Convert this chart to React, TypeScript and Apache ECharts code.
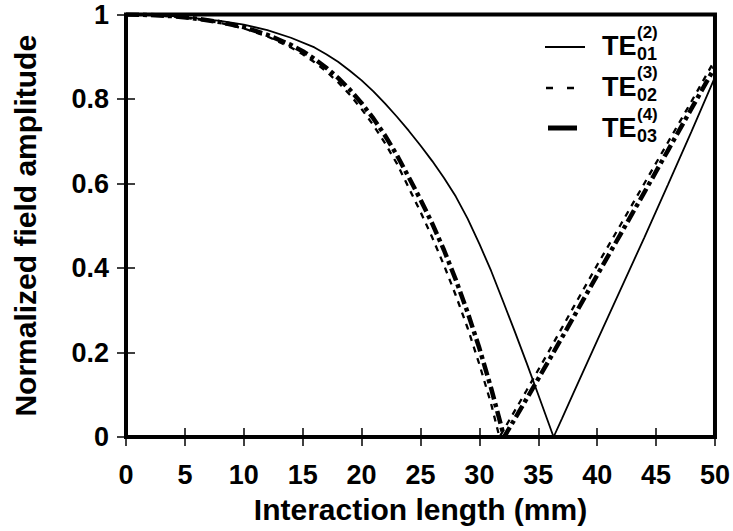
import React, { useEffect, useRef } from "react";
import * as echarts from "echarts";

// TE01(2) – solid
const te01X = [0, 2, 4, 6, 8, 10, 12, 14, 16, 17, 18, 19, 20, 21, 22, 23, 24, 25, 26, 27, 28, 29, 30, 31, 32, 33, 34, 35, 36.3, 37, 38, 40, 42, 44, 46, 48, 50];
const te01Y = [1.0, 0.999, 0.996, 0.991, 0.985, 0.976, 0.963, 0.945, 0.922, 0.906, 0.888, 0.867, 0.844, 0.818, 0.789, 0.758, 0.725, 0.69, 0.653, 0.613, 0.569, 0.517, 0.457, 0.393, 0.322, 0.25, 0.176, 0.1, 0.0, 0.043, 0.105, 0.228, 0.35, 0.472, 0.597, 0.723, 0.852];

// TE02(3) – short dashes
const te02X = [0, 2, 4, 6, 8, 10, 12, 14, 15, 16, 17, 18, 19, 20, 21, 22, 23, 24, 25, 26, 27, 28, 29, 30, 31, 31.7, 32, 34, 36, 38, 40, 42, 44, 46, 48, 50];
const te02Y = [1.0, 0.999, 0.995, 0.989, 0.98, 0.967, 0.948, 0.922, 0.906, 0.887, 0.865, 0.84, 0.81, 0.776, 0.738, 0.695, 0.647, 0.59, 0.533, 0.472, 0.406, 0.335, 0.258, 0.172, 0.078, 0.0, 0.014, 0.11, 0.208, 0.308, 0.407, 0.503, 0.6, 0.697, 0.794, 0.893];

// TE03(4) – thick dash-dot
const te03X = [0, 2, 4, 6, 8, 10, 12, 14, 15, 16, 17, 18, 19, 20, 21, 22, 23, 24, 25, 26, 27, 28, 29, 30, 31, 32.1, 34, 36, 38, 40, 42, 44, 46, 48, 50];
const te03Y = [1.0, 0.999, 0.996, 0.99, 0.982, 0.97, 0.952, 0.928, 0.913, 0.895, 0.874, 0.85, 0.822, 0.79, 0.754, 0.713, 0.667, 0.615, 0.562, 0.505, 0.442, 0.372, 0.295, 0.21, 0.115, 0.0, 0.09, 0.186, 0.284, 0.383, 0.481, 0.579, 0.678, 0.777, 0.876];

const legendSup = ["(2)", "(3)", "(4)"];
const legendSub = ["01", "02", "03"];

const FONT = "'Liberation Sans', Arial, Helvetica, sans-serif";

function pairs(xs: number[], ys: number[]) {
  return xs.map((x, i) => [x, ys[i]]);
}

export default function App() {
  const ref = useRef<HTMLDivElement>(null);
  useEffect(() => {
    if (!ref.current) return;
    const chart = echarts.init(ref.current, undefined, { renderer: "svg" });
    const rowY = [46, 86.5, 128];
    const graphics: any[] = [];
    rowY.forEach((c, i) => {
      if (i === 0) {
        graphics.push({ type: "line", shape: { x1: 545, y1: c + 1, x2: 585, y2: c + 1 }, style: { stroke: "#000", lineWidth: 2 } });
      } else if (i === 1) {
        graphics.push({ type: "line", shape: { x1: 546, y1: c + 1.5, x2: 574, y2: c + 1.5 }, style: { stroke: "#000", lineWidth: 2.5, lineDash: [7, 14] } });
      } else {
        graphics.push({ type: "line", shape: { x1: 548, y1: c, x2: 577, y2: c }, style: { stroke: "#000", lineWidth: 5 } });
      }
      graphics.push({ type: "text", x: 602, y: c, style: { text: "TE", font: `bold 27px ${FONT}`, fill: "#000", textAlign: "left", textVerticalAlign: "middle" } });
      graphics.push({ type: "text", x: 637, y: c - 14, style: { text: legendSup[i], font: `bold 17px ${FONT}`, fill: "#000", textAlign: "left", textVerticalAlign: "middle" } });
      graphics.push({ type: "text", x: 637, y: c + 8, style: { text: legendSub[i], font: `bold 18px ${FONT}`, fill: "#000", textAlign: "left", textVerticalAlign: "middle" } });
    });

    const tickStyle = { show: true, inside: true, length: 9, lineStyle: { color: "#000", width: 1.5 } };
    const labelStyle = { color: "#000", fontSize: 27, fontWeight: "bold" as const, fontFamily: FONT };

    chart.setOption({
      animation: false,
      backgroundColor: "#fff",
      grid: { left: 126, right: 18, top: 14.5, bottom: 94, show: true, borderColor: "#000", borderWidth: 4, backgroundColor: "transparent" },
      xAxis: [
        {
          type: "value", min: 0, max: 50, interval: 5, position: "bottom",
          axisLine: { show: false }, axisTick: tickStyle, splitLine: { show: false },
          axisLabel: { ...labelStyle, margin: 24 },
          name: "Interaction length (mm)", nameLocation: "middle", nameGap: 57,
          nameTextStyle: { color: "#000", fontSize: 30, fontWeight: "bold", fontFamily: FONT },
        },
        {
          type: "value", min: 0, max: 50, interval: 5, position: "top",
          axisLine: { show: false }, axisTick: tickStyle, splitLine: { show: false }, axisLabel: { show: false },
        },
      ],
      yAxis: [
        {
          type: "value", min: 0, max: 1, interval: 0.2, position: "left",
          axisLine: { show: false }, axisTick: tickStyle, splitLine: { show: false },
          axisLabel: { ...labelStyle, margin: 17, formatter: (v: number) => (v === 0 ? "0" : v === 1 ? "1" : v.toFixed(1)) },
          name: "Normalized field amplitude", nameLocation: "middle", nameGap: 86,
          nameTextStyle: { color: "#000", fontSize: 30, fontWeight: "bold", fontFamily: FONT },
        },
        {
          type: "value", min: 0, max: 1, interval: 0.2, position: "right",
          axisLine: { show: false }, axisTick: tickStyle, splitLine: { show: false }, axisLabel: { show: false },
        },
      ],
      series: [
        {
          name: "TE01", type: "line", data: pairs(te01X, te01Y), showSymbol: false, symbol: "none",
          lineStyle: { color: "#000", width: 1.8, type: "solid" }, z: 3,
        },
        {
          name: "TE02", type: "line", data: pairs(te02X, te02Y), showSymbol: false, symbol: "none",
          lineStyle: { color: "#000", width: 2.3, type: [6, 6] }, z: 2,
        },
        {
          name: "TE03", type: "line", data: pairs(te03X, te03Y), showSymbol: false, symbol: "none",
          lineStyle: { color: "#000", width: 4.5, type: [13, 4, 4, 4] }, z: 2,
        },
      ],
      graphic: graphics,
    });
    return () => chart.dispose();
  }, []);
  return <div ref={ref} style={{ width: 733, height: 531, position: "absolute", left: 0, top: 0 }} />;
}
